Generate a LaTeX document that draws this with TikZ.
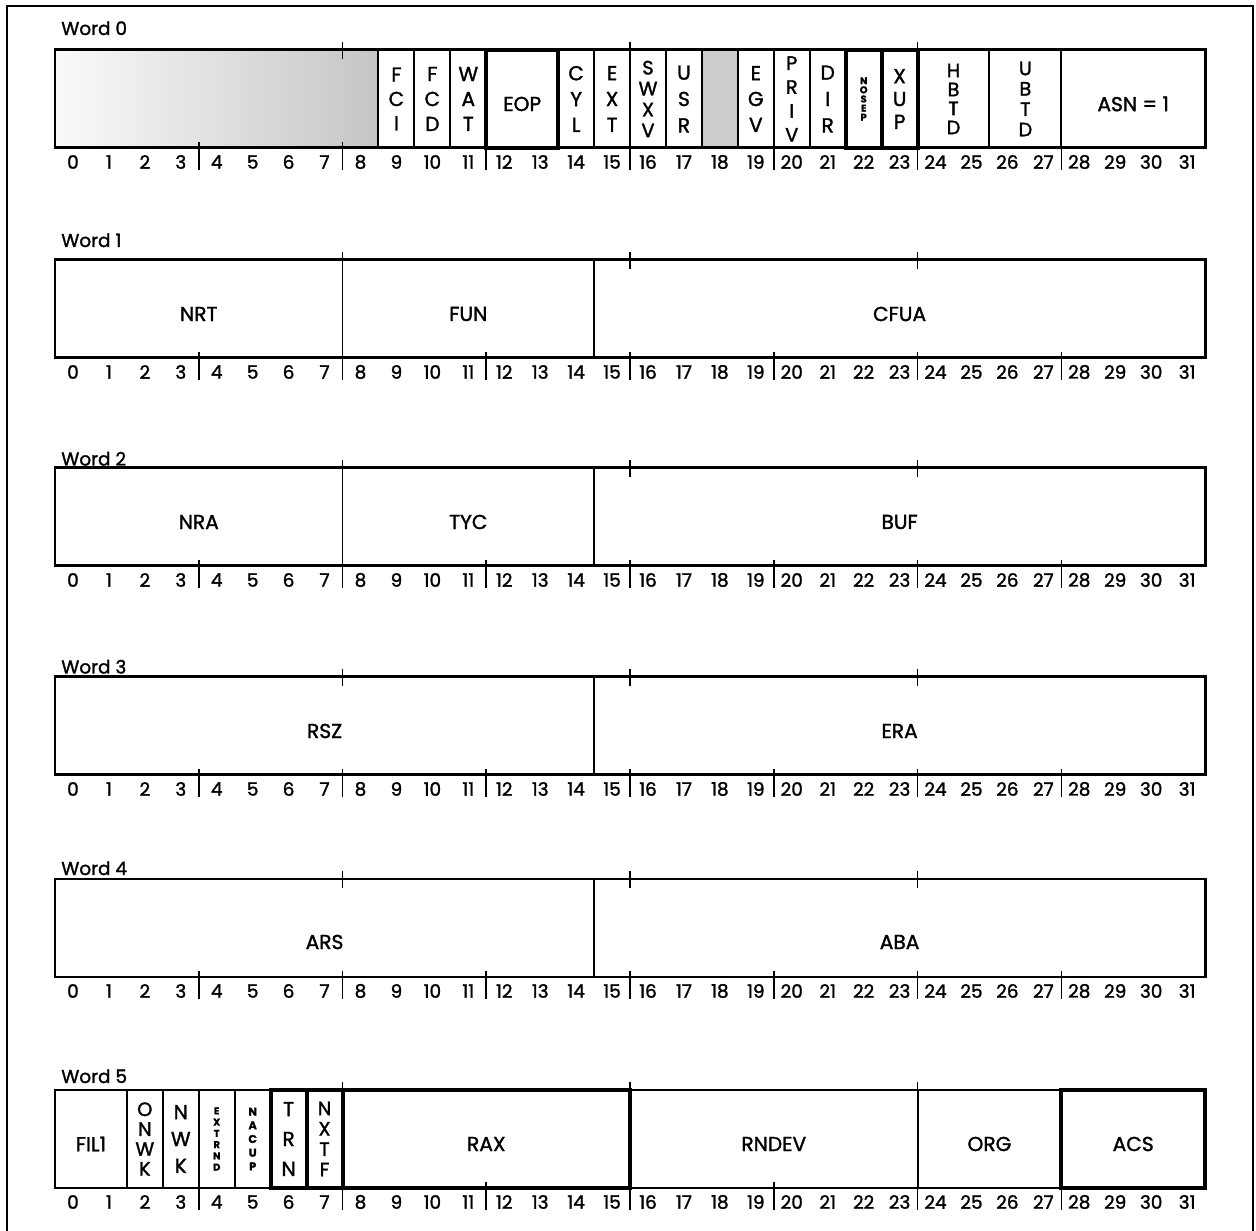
\documentclass[tikz,border=0pt]{standalone}
\usepackage{fontspec}
\setmainfont{Poppins}[FakeBold=1.5]
\usepackage{tikz}
\newcommand{\leftx}{1.1}
\newcommand{\bitw}{0.7188}
\newcommand{\boxh}{1.96}
% one field: [node style]{top}{first bit}{end bit}{name}{text}
\newcommand{\fld}[6][]{%
  \draw[fldline] ({\leftx+#3*\bitw},#2) rectangle ({\leftx+#4*\bitw},#2-\boxh);
  \node[lbl,#1] (#5) at ({\leftx+(#3+#4)/2*\bitw},#2-\boxh/2) {#6};}
\newcommand{\heavyfld}[3]{%
  \draw[heavyline] ({\leftx+#2*\bitw},#1) rectangle ({\leftx+#3*\bitw},#1-\boxh);}
% word label, bit numbers, ticks and frame: {index}{top}{label lift}
\newcommand{\wordrow}[3]{%
  \node[wordlbl] (word#1) at (1.22,#2+#3) {Word #1};
  \foreach \bit in {0,...,31}
    \node[bitno] (w#1b\bit) at ({\leftx+(\bit+0.5)*\bitw},#2-\boxh-0.28) {\bit};
  \foreach \tk in {4,8,...,28}
    \draw[tickline] ({\leftx+\tk*\bitw},#2-\boxh+0.12) -- ++(0,-0.56);
  \foreach \tk in {8,16,24}
    \draw[tickline] ({\leftx+\tk*\bitw},#2+0.16) -- ++(0,-0.34);
  \draw[wordframe] (\leftx,#2) rectangle ({\leftx+32*\bitw},#2-\boxh);}

\begin{document}
\begin{tikzpicture}[
  fldline/.style   = {draw=black, line width=1.1pt},
  heavyline/.style = {draw=black, line width=2.3pt},
  wordframe/.style = {draw=black, line width=1.7pt},
  tickline/.style  = {line width=0.9pt},
  pageframe/.style = {draw=black, line width=1.6pt},
  lbl/.style       = {inner sep=0pt, align=center, font=\fontsize{11.5}{13}\selectfont},
  hlbl/.style      = {yshift=-0.1cm},
  vs/.style        = {font=\fontsize{11.5}{#1}\selectfont},
  vsf/.style       = {font=\fontsize{11}{#1}\selectfont},
  tinystack/.style = {font=\fontsize{5.6}{5.2}\selectfont\bfseries},
  tinyx/.style     = {font=\fontsize{5.6}{6.4}\selectfont\bfseries},
  tinyn/.style     = {font=\fontsize{6.4}{7.8}\selectfont\bfseries},
  bitno/.style     = {inner sep=0pt, font=\fontsize{10.5}{12}\selectfont},
  wordlbl/.style   = {inner sep=0pt, anchor=base west, font=\fontsize{10.5}{12}\selectfont}
]
\useasboundingbox (0,0) rectangle (25.12,24.6);
\draw[pageframe] (0.14,-0.1) -- (0.14,24.48) -- (25.06,24.48) -- (25.06,-0.1);

% Word 0
\shade[left color=gray!4, right color=gray!45]
  (\leftx,23.60) rectangle ({\leftx+9*\bitw},23.60-\boxh);
\draw[fldline] (\leftx,23.60) rectangle ({\leftx+9*\bitw},23.60-\boxh);
\fld[vs=13.9]{23.60}{9}{10}{fci}{F\\C\\I}
\fld[vs=14.2]{23.60}{10}{11}{fcd}{F\\C\\D}
\fld[vs=14.2]{23.60}{11}{12}{wat}{W\\A\\T}
\fld[hlbl]{23.60}{12}{14}{eop}{EOP}
\fld[vs=14.7]{23.60}{14}{15}{cyl}{C\\Y\\L}
\fld[vs=14.7]{23.60}{15}{16}{ext}{E\\X\\T}
\fld[vsf=11.9]{23.60}{16}{17}{swxv}{S\\W\\X\\V}
\fld[vs=15]{23.60}{17}{18}{usr}{U\\S\\R}
\fill[gray!40] ({\leftx+18*\bitw},23.60) rectangle ({\leftx+19*\bitw},23.60-\boxh);
\draw[fldline] ({\leftx+18*\bitw},23.60) rectangle ({\leftx+19*\bitw},23.60-\boxh);
\fld[vs=14.7]{23.60}{19}{20}{egv}{E\\G\\V}
\fld[vsf=13.6]{23.60}{20}{21}{priv}{P\\R\\I\\V}
\fld[vs=15]{23.60}{21}{22}{dir}{D\\I\\R}
\fld[tinystack]{23.60}{22}{23}{nosep}{N\\O\\S\\E\\P}
\fld[vs=13]{23.60}{23}{24}{xup}{X\\U\\P}
\fld[vsf=10.8]{23.60}{24}{26}{hbtd}{H\\B\\T\\D}
\fld[vsf=11.6]{23.60}{26}{28}{ubtd}{U\\B\\T\\D}
\fld[hlbl]{23.60}{28}{32}{asn}{ASN = 1}
\wordrow{0}{23.60}{0.30}
\heavyfld{23.60}{12}{14}
\heavyfld{23.60}{22}{23}
\heavyfld{23.60}{23}{24}

% Word 1
\fld[hlbl]{19.40}{0}{8}{nrt}{NRT}
\fld[hlbl]{19.40}{8}{15}{fun}{FUN}
\fld[hlbl]{19.40}{15}{32}{cfua}{CFUA}
\wordrow{1}{19.40}{0.26}

% Word 2
\fld[hlbl]{15.24}{0}{8}{nra}{NRA}
\fld[hlbl]{15.24}{8}{15}{tyc}{TYC}
\fld[hlbl]{15.24}{15}{32}{buf}{BUF}
\wordrow{2}{15.24}{0.05}

% Word 3
\fld[hlbl]{11.06}{0}{15}{rsz}{RSZ}
\fld[hlbl]{11.06}{15}{32}{era}{ERA}
\wordrow{3}{11.06}{0.07}

% Word 4
\fld[hlbl, yshift=-0.18cm]{7.02}{0}{15}{ars}{ARS}
\fld[hlbl, yshift=-0.18cm]{7.02}{15}{32}{aba}{ABA}
\wordrow{4}{7.02}{0.08}

% Word 5
\fld[hlbl]{2.80}{0}{2}{fil1}{FIL1}
\fld[vsf=11.3]{2.80}{2}{3}{onwk}{O\\N\\W\\K}
\fld[vs=15.3]{2.80}{3}{4}{nwk}{N\\W\\K}
\fld[tinyx]{2.80}{4}{5}{extrnd}{E\\X\\T\\R\\N\\D}
\fld[tinyn]{2.80}{5}{6}{nacup}{N\\A\\C\\U\\P}
\fld[vs=17]{2.80}{6}{7}{trn}{T\\R\\N}
\fld[vsf=11.6]{2.80}{7}{8}{nxtf}{N\\X\\T\\F}
\fld[hlbl]{2.80}{8}{16}{rax}{RAX}
\fld[hlbl]{2.80}{16}{24}{rndev}{RNDEV}
\fld[hlbl]{2.80}{24}{28}{org}{ORG}
\fld[hlbl]{2.80}{28}{32}{acs}{ACS}
\wordrow{5}{2.80}{0.14}
\heavyfld{2.80}{6}{7}
\heavyfld{2.80}{7}{8}
\heavyfld{2.80}{8}{16}
\heavyfld{2.80}{28}{32}
\end{tikzpicture}
\end{document}
